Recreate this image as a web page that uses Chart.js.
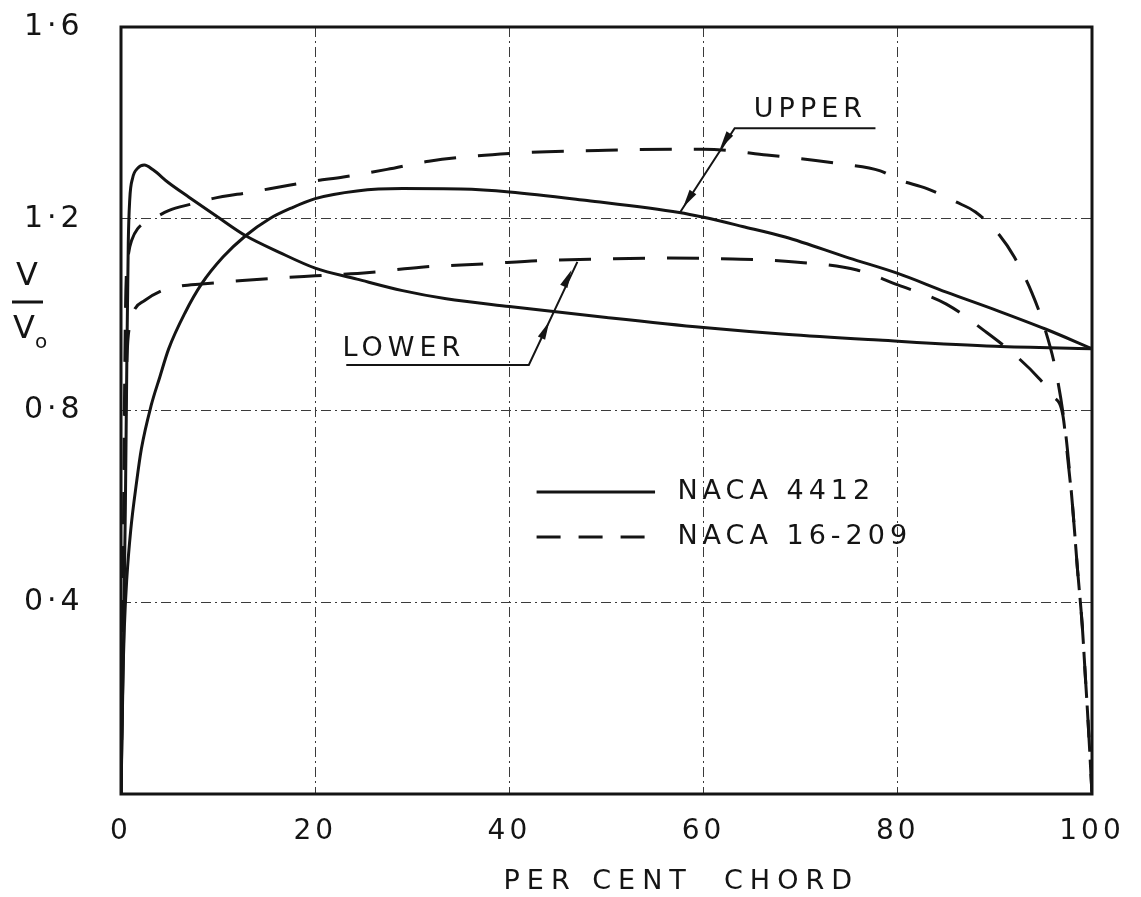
<!DOCTYPE html>
<html>
<head>
<meta charset="utf-8">
<title>Velocity distribution - NACA 4412 and NACA 16-209</title>
<script src="https://cdn.jsdelivr.net/npm/chart.js@4.4.1/dist/chart.umd.min.js"></script>
<style>
  html, body { margin: 0; padding: 0; background: #fff; }
  canvas { display: block; }
</style>
</head>
<body>
<canvas id="chart" width="1141" height="897"></canvas>
<script>
// axis ticks
const xTicks = [0, 20, 40, 60, 80, 100];
const yTicks = [0.4, 0.8, 1.2, 1.6];

// NACA 4412, the curve marked UPPER (rises from the nose, flat top near 30 %)
const naca4412UpperX = [0, 0.15, 0.35, 0.6, 1.0, 1.6, 2.1, 3.1, 4.0, 4.9, 6.6, 8.3, 10.5, 12.8, 15.3, 17.5, 20, 24.3, 29, 35, 40, 48, 57.5, 60, 64, 68.4, 75, 80, 85, 90.3, 95.2, 100];
const naca4412UpperY = [0, 0.2, 0.35, 0.45, 0.55, 0.65, 0.72, 0.81, 0.87, 0.928, 1.004, 1.064, 1.12, 1.164, 1.2, 1.222, 1.242, 1.258, 1.263, 1.262, 1.256, 1.238, 1.213, 1.203, 1.184, 1.162, 1.118, 1.086, 1.047, 1.008, 0.97, 0.929];

// NACA 4412, the other solid curve (peak right at the nose)
const naca4412LowerX = [0, 0.25, 0.45, 0.6, 0.75, 0.9, 1.2, 1.7, 2.4, 3.3, 4.9, 7, 10, 12.8, 16.3, 20, 24.3, 29, 33.5, 40, 50, 60, 68.4, 78, 90, 100];
const naca4412LowerY = [0, 0.3, 0.6, 0.9, 1.15, 1.24, 1.285, 1.305, 1.312, 1.302, 1.275, 1.245, 1.203, 1.165, 1.13, 1.097, 1.074, 1.05, 1.033, 1.017, 0.994, 0.973, 0.959, 0.947, 0.934, 0.929];

// NACA 16-209 upper (dashed)
const naca16209UpperX = [0, 0.2, 0.35, 0.5, 0.8, 1.1, 1.7, 3.1, 4.9, 7.3, 9.4, 13.5, 17.3, 20, 22.9, 27.4, 31.7, 40, 50, 60, 66.5, 73.9, 78.2, 80, 83, 86, 88, 90.5, 92, 93.8, 95, 96.3, 97.3, 98, 98.5, 99, 99.3, 99.6, 100];
const naca16209UpperY = [0, 0.4, 0.8, 1.05, 1.13, 1.155, 1.179, 1.197, 1.217, 1.231, 1.242, 1.256, 1.27, 1.279, 1.287, 1.303, 1.32, 1.336, 1.343, 1.345, 1.333, 1.315, 1.3, 1.282, 1.263, 1.235, 1.214, 1.165, 1.12, 1.046, 0.98, 0.88, 0.75, 0.6, 0.47, 0.35, 0.25, 0.15, 0];

// NACA 16-209 lower (dashed)
const naca16209LowerX = [0, 0.2, 0.4, 0.6, 0.97, 1.4, 2.4, 4.2, 6.2, 8.3, 12.5, 17.3, 20, 25.6, 30.9, 37.5, 43.4, 49.4, 56, 63, 69.4, 75.8, 80, 85, 89, 92, 94.5, 96, 97, 97.5, 98, 98.5, 99, 99.3, 99.6, 100];
const naca16209LowerY = [0, 0.35, 0.7, 0.9, 0.983, 1.011, 1.029, 1.05, 1.06, 1.064, 1.071, 1.078, 1.081, 1.088, 1.099, 1.106, 1.113, 1.116, 1.118, 1.116, 1.11, 1.093, 1.062, 1.022, 0.965, 0.917, 0.868, 0.83, 0.79, 0.7, 0.6, 0.47, 0.35, 0.25, 0.15, 0];

const legendLabels = ['NACA 4412', 'NACA 16-209'];

const INK = '#141414';
const FONT = "'DejaVu Sans', 'Liberation Sans', sans-serif";
const CURVE_DASH = [32, 22];

function toPoints(xs, ys) {
  return xs.map((x, i) => ({ x: x, y: ys[i] }));
}

function curve(label, xs, ys, dash) {
  return {
    label: label,
    data: toPoints(xs, ys),
    borderColor: INK,
    borderWidth: 3,
    borderDash: dash,
    borderJoinStyle: 'round',
    pointRadius: 0,
    fill: false,
    cubicInterpolationMode: 'monotone'
  };
}

function arrowHead(ctx, px, py, fromX, fromY, toX, toY) {
  const a = Math.atan2(toY - fromY, toX - fromX);
  ctx.save();
  ctx.translate(px, py);
  ctx.rotate(a);
  ctx.beginPath();
  ctx.moveTo(9, 0);
  ctx.lineTo(-9, -4);
  ctx.lineTo(-9, 4);
  ctx.closePath();
  ctx.fill();
  ctx.restore();
}

function text(ctx, str, x, y, size, align) {
  ctx.font = size + 'px ' + FONT;
  ctx.textAlign = align || 'left';
  ctx.textBaseline = 'middle';
  ctx.fillText(str, x, y);
}

const sketchPlugin = {
  id: 'sketch',
  beforeDraw(chart) {
    const ctx = chart.ctx;
    ctx.save();
    ctx.fillStyle = '#fff';
    ctx.fillRect(0, 0, chart.width, chart.height);
    ctx.restore();
    ctx.letterSpacing = '4px';
  },
  afterDraw(chart) {
    const ctx = chart.ctx;
    const area = chart.chartArea;
    const xs = chart.scales.x;
    const ys = chart.scales.y;
    const px = v => xs.getPixelForValue(v);
    const py = v => ys.getPixelForValue(v);

    ctx.save();
    ctx.strokeStyle = INK;
    ctx.fillStyle = INK;
    ctx.lineCap = 'butt';

    // frame
    ctx.lineWidth = 3;
    ctx.strokeRect(area.left, area.top, area.right - area.left, area.bottom - area.top);

    // legend inside the plot
    ctx.letterSpacing = '5px';
    ctx.lineWidth = 3;
    ctx.beginPath();
    ctx.moveTo(px(42.8), py(0.63));
    ctx.lineTo(px(55), py(0.63));
    ctx.stroke();
    ctx.setLineDash([24, 18]);
    ctx.beginPath();
    ctx.moveTo(px(42.8), py(0.536));
    ctx.lineTo(px(55), py(0.536));
    ctx.stroke();
    ctx.setLineDash([]);
    text(ctx, legendLabels[0], px(57.3), py(0.63), 27);
    text(ctx, legendLabels[1], px(57.3), py(0.536), 27);

    // UPPER note
    ctx.lineWidth = 2;
    const uk = [px(63.2), py(1.389)];
    const ut = [px(57.6), py(1.214)];
    ctx.beginPath();
    ctx.moveTo(px(77.7), uk[1]);
    ctx.lineTo(uk[0], uk[1]);
    ctx.lineTo(ut[0], ut[1]);
    ctx.stroke();
    arrowHead(ctx, px(62.2), py(1.362), uk[0], uk[1], ut[0], ut[1]);
    arrowHead(ctx, px(58.4), py(1.24), uk[0], uk[1], ut[0], ut[1]);
    text(ctx, 'UPPER', px(71), py(1.427), 27, 'center');

    // LOWER note
    const lk = [px(42), py(0.895)];
    const lt = [px(47), py(1.11)];
    ctx.beginPath();
    ctx.moveTo(px(23.2), lk[1]);
    ctx.lineTo(lk[0], lk[1]);
    ctx.lineTo(lt[0], lt[1]);
    ctx.stroke();
    arrowHead(ctx, px(43.7), py(0.968), lk[0], lk[1], lt[0], lt[1]);
    arrowHead(ctx, px(46), py(1.076), lk[0], lk[1], lt[0], lt[1]);
    text(ctx, 'LOWER', px(22.8), py(0.928), 27);

    // x axis title
    ctx.letterSpacing = '7px';
    text(ctx, 'PER CENT  CHORD', px(57.7), 882, 27, 'center');

    // y axis title, V over V0
    ctx.letterSpacing = '0px';
    const yc = area.left - 94;
    text(ctx, 'V', yc, 277, 32, 'center');
    ctx.lineWidth = 3;
    ctx.beginPath();
    ctx.moveTo(yc - 15, 302);
    ctx.lineTo(yc + 16, 302);
    ctx.stroke();
    text(ctx, 'V', yc - 3, 330, 32, 'center');
    text(ctx, 'o', yc + 14, 343, 20, 'center');

    ctx.restore();
    ctx.letterSpacing = '0px';
  }
};

new Chart(document.getElementById('chart'), {
  type: 'line',
  data: {
    datasets: [
      curve('NACA 4412 upper', naca4412UpperX, naca4412UpperY, []),
      curve('NACA 4412 lower', naca4412LowerX, naca4412LowerY, []),
      curve('NACA 16-209 upper', naca16209UpperX, naca16209UpperY, CURVE_DASH),
      curve('NACA 16-209 lower', naca16209LowerX, naca16209LowerY, CURVE_DASH)
    ]
  },
  options: {
    responsive: false,
    animation: false,
    devicePixelRatio: 1,
    layout: { padding: { left: 24, right: 49, top: 27, bottom: 0 } },
    plugins: {
      legend: { display: false },
      tooltip: { enabled: false }
    },
    scales: {
      x: {
        type: 'linear',
        min: 0,
        max: 100,
        afterBuildTicks: s => { s.ticks = xTicks.map(v => ({ value: v })); },
        afterFit: s => { s.height = 103; },
        ticks: {
          color: INK,
          padding: 21,
          maxRotation: 0,
          font: { family: FONT, size: 28 }
        },
        grid: { color: '#3a3a3a', lineWidth: 1, drawTicks: false },
        border: { display: false, dash: [10, 4, 2, 4] }
      },
      y: {
        type: 'linear',
        min: 0,
        max: 1.6,
        afterBuildTicks: s => { s.ticks = yTicks.map(v => ({ value: v })); },
        afterFit: s => { s.width = 97; },
        ticks: {
          color: INK,
          crossAlign: 'far',
          font: { family: FONT, size: 30 },
          callback: v => v.toFixed(1).replace('.', '\u00b7')
        },
        grid: { color: '#3a3a3a', lineWidth: 1, drawTicks: false },
        border: { display: false, dash: [10, 4, 2, 4] }
      }
    }
  },
  plugins: [sketchPlugin]
});
</script>
</body>
</html>
